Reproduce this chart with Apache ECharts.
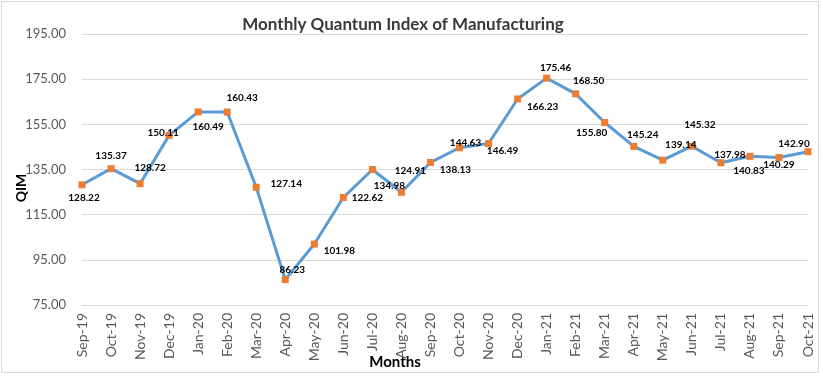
<!DOCTYPE html>
<html>
<head>
<meta charset="utf-8">
<script src="https://cdn.jsdelivr.net/npm/echarts@6/dist/echarts.min.js"></script>
<style>html,body{margin:0;padding:0;background:#fff}#c{width:823px;height:378px}</style>
</head>
<body>
<div id="c"></div>
<script>
const months = ["Sep-19","Oct-19","Nov-19","Dec-19","Jan-20","Feb-20","Mar-20","Apr-20","May-20","Jun-20","Jul-20","Aug-20","Sep-20","Oct-20","Nov-20","Dec-20","Jan-21","Feb-21","Mar-21","Apr-21","May-21","Jun-21","Jul-21","Aug-21","Sep-21","Oct-21"];
const qim = [128.22,135.37,128.72,150.11,160.49,160.43,127.14,86.23,101.98,122.62,134.98,124.91,138.13,144.63,146.49,166.23,175.46,168.50,155.80,145.24,139.14,145.32,137.98,140.83,140.29,142.90];
const yTicks = {min:75, max:195, interval:20};
const titleText = "Monthly Quantum Index of Manufacturing";
const yName = "QIM";
const xName = "Months";
// label offsets (style only): [dx, dy] from the point to the label centre
const labelOffsets = [[2,13],[0,-13],[10,-16],[-6,-3],[10,15],[15,-14],[30,-3],[7,-10],[25,7],[24,0],[17,16],[9,-22],[25,7],[6,-5],[14,7],[25,8],[9,-10],[13,-13],[-13,10],[9,-12],[18,-15],[8,-21],[9,-8],[-1,14],[0,7],[-14,-8]];

const FONT = 'Lato, "Liberation Sans", sans-serif';
const chart = echarts.init(document.getElementById('c'));
const seriesData = qim.map((v,i)=>({
  value: v,
  label: {offset: labelOffsets[i]}
}));
chart.setOption({
  animation:false,
  backgroundColor:'#fff',
  title:{text:titleText,left:398,top:11,textAlign:'center',
    textStyle:{fontFamily:FONT,fontSize:17,fontWeight:'bold',color:'#3a3a3a'}},
  grid:{left:82,right:15,top:34,bottom:73,containLabel:false},
  xAxis:{type:'category',data:months,boundaryGap:false,
    axisLine:{lineStyle:{color:'#d9d9d9'}},axisTick:{show:false},
    axisLabel:{rotate:90,fontFamily:FONT,fontSize:14,color:'#595959',margin:8,interval:0}},
  yAxis:{type:'value',min:yTicks.min,max:yTicks.max,interval:yTicks.interval,
    axisLine:{show:false},axisTick:{show:false},
    splitLine:{lineStyle:{color:'#d9d9d9',width:1}},
    axisLabel:{fontFamily:FONT,fontSize:13,color:'#595959',margin:16,formatter:v=>v.toFixed(2)}},
  series:[{type:'line',data:seriesData,
    lineStyle:{color:'#5B9BD5',width:3},
    symbol:'rect',symbolSize:7,
    itemStyle:{color:'#ED7D31'},
    label:{show:true,position:'inside',formatter:p=>p.value.toFixed(2),
      fontFamily:FONT,fontSize:10,fontWeight:'bold',color:'#000'}}],
  graphic:[
    {type:'rect',shape:{x:1.5,y:1.5,width:817,height:371},style:{fill:'none',stroke:'#d9d9d9',lineWidth:1},silent:true,z:-1},
    {type:'text',x:21,y:188,rotation:Math.PI/2,style:{text:yName,fontFamily:FONT,fontSize:14,fontWeight:'bold',fill:'#000',align:'center',verticalAlign:'middle'}},
    {type:'text',x:395,y:362,style:{text:xName,fontFamily:FONT,fontSize:15,fontWeight:'bold',fill:'#000',align:'center',verticalAlign:'middle'}}
  ]
});
</script>
</body>
</html>
